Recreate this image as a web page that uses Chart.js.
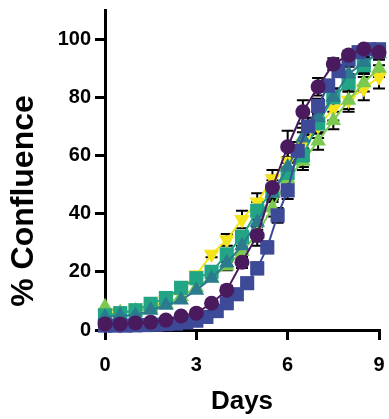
<!DOCTYPE html>
<html>
<head>
<meta charset="utf-8">
<script src="https://cdn.jsdelivr.net/npm/chart.js@4/dist/chart.umd.min.js"></script>
<style>
  html, body { margin: 0; padding: 0; background: #fff; }
  #wrap { width: 389px; height: 419px; }
</style>
</head>
<body>
<div id="wrap"><canvas id="c"></canvas></div>
<script>
// time points (days)
const days = [0, 0.5, 1, 1.5, 2, 2.5, 3, 3.5, 4, 4.5, 5, 5.5, 6, 6.5, 7, 7.5, 8, 8.5, 9];
const daysIndigo = [0, 0.33, 0.67, 1, 1.33, 1.67, 2, 2.33, 2.67, 3, 3.33, 3.67, 4, 4.33, 4.67,
    5, 5.33, 5.67, 6, 6.33, 6.67, 7, 7.33, 7.67, 8, 8.33, 8.67, 9];

// % confluence per series
const purpleCircle = [2.1, 2.1, 2.4, 2.7, 3.4, 4.8, 5.8, 9.2, 13.7, 23.3, 32.5, 49, 63, 75, 83.6, 91.4, 94.5, 96.6, 95.5];
const indigoSquare = [1.5, 1.5, 1.5, 1.6, 1.7, 1.8, 2, 2.2, 2.6, 3.2, 4.5, 6.5, 9.2, 12.3, 16.1,
    21.2, 28.4, 39.4, 48, 61.6, 70, 77, 84, 89, 93, 95.5, 96.5, 96.5];
const tealTriangle = [4.5, 5, 5, 6.8, 8.5, 10.3, 13.7, 17.8, 23, 29, 37, 47, 56, 66, 73, 80, 88, 92, 95];
const greenSquare = [5, 5.8, 6.8, 9, 11, 14.5, 17.8, 20, 26, 32, 41, 48, 54, 60, 71, 80, 85, 91, 96];
const limeTriangle = [8, 6, 6.5, 7.5, 9, 11.5, 14.5, 18, 22, 27, 33, 42, 52, 58, 65, 72, 79, 85, 90];
const yellowTriangle = [6, 6, 7, 8, 10, 14, 19, 26, 31, 38, 44, 52, 58, 64, 70, 76, 79, 83, 87];

// error (SD)
const purpleErr = [0, 0, 0, 0, 0, 0, 0, 0, 1.5, 2, 3.5, 4, 5.5, 4, 3, 2, 1.5, 1, 1];
const indigoErr = [0, 0, 0, 0, 0, 0, 0, 0, 0, 0, 0, 0, 1, 1.5, 1.5,
    2, 2, 2.5, 3, 3, 3, 2.5, 2, 2, 1.5, 1, 1, 1];
const tealErr = [0, 0, 0, 0, 0, 0, 0, 0, 1.5, 2, 2.5, 3, 3.5, 3.5, 3, 3, 2.5, 2, 2];
const greenErr = [0, 0, 0, 0, 0, 0, 0, 1, 1.5, 2, 3, 3.5, 4, 4, 3.5, 3, 3, 2.5, 2];
const limeErr = [0, 0, 0, 0, 0, 0, 0, 0, 1.5, 2, 2.5, 3, 3, 3, 3, 3, 3, 3, 3];
const yellowErr = [0, 0, 0, 0, 0, 0, 0, 1, 2, 3, 3, 3, 4, 4, 4, 4, 4, 4, 4];

const yTicks = [0, 20, 40, 60, 80, 100];
const xTicks = [0, 3, 6, 9];
const yTitle = '% Confluence';

const pts = (xs, ys) => xs.map((x, i) => ({ x: x, y: ys[i] }));

const makeSet = (xs, ys, err, color, style, radius, rotation) => ({
    data: pts(xs, ys),
    err: err,
    borderColor: color,
    backgroundColor: color,
    borderWidth: 2,
    pointStyle: style,
    pointRadius: radius,
    pointRotation: rotation || 0,
    pointBorderWidth: 0,
    pointBackgroundColor: color,
    clip: false,
});

const fontFamily = '"Liberation Sans", Arial, sans-serif';
const font = { family: fontFamily, weight: 'bold' };

// error bars drawn behind the markers
const errorBars = {
    id: 'errorBars',
    beforeDatasetsDraw(chart) {
        const ctx = chart.ctx;
        const y = chart.scales.y;
        ctx.save();
        ctx.strokeStyle = '#000';
        ctx.lineWidth = 2;
        chart.data.datasets.forEach((ds, di) => {
            const meta = chart.getDatasetMeta(di);
            ds.data.forEach((p, i) => {
                const e = ds.err[i];
                if (!e) return;
                const px = meta.data[i].x;
                const top = y.getPixelForValue(p.y + e);
                const bot = y.getPixelForValue(p.y - e);
                ctx.beginPath();
                ctx.moveTo(px, top); ctx.lineTo(px, bot);
                ctx.moveTo(px - 6, top); ctx.lineTo(px + 6, top);
                ctx.moveTo(px - 6, bot); ctx.lineTo(px + 6, bot);
                ctx.stroke();
            });
        });
        ctx.restore();
    }
};

// y axis title, placed a bit lower than the chart area centre like the original
const yTitlePlugin = {
    id: 'yTitlePlugin',
    afterDraw(chart) {
        const ctx = chart.ctx;
        ctx.save();
        ctx.translate(33, 201);
        ctx.rotate(-Math.PI / 2);
        ctx.font = 'bold 32px ' + fontFamily;
        ctx.fillStyle = '#000';
        ctx.textAlign = 'center';
        ctx.textBaseline = 'alphabetic';
        ctx.fillText(yTitle, 0, 0);
        ctx.restore();
    }
};

new Chart(document.getElementById('c'), {
    type: 'line',
    data: {
        datasets: [
            makeSet(days, purpleCircle, purpleErr, '#4a1a5e', 'circle', 7.5),
            makeSet(daysIndigo, indigoSquare, indigoErr, '#3d4a97', 'rect', 10),
            makeSet(days, tealTriangle, tealErr, '#2b7a8d', 'triangle', 9),
            makeSet(days, greenSquare, greenErr, '#22a585', 'rect', 10),
            makeSet(days, limeTriangle, limeErr, '#7cc94f', 'triangle', 9),
            makeSet(days, yellowTriangle, yellowErr, '#f3e41c', 'triangle', 9, 180),
        ]
    },
    options: {
        responsive: true,
        maintainAspectRatio: false,
        animation: false,
        layout: { padding: { left: 58, right: 9, top: 7, bottom: 0 } },
        plugins: {
            legend: { display: false },
            tooltip: { enabled: false },
        },
        scales: {
            x: {
                type: 'linear',
                min: 0,
                max: 9,
                afterBuildTicks: axis => { axis.ticks = xTicks.map(v => ({ value: v })); },
                afterFit: axis => { axis.height = 89; axis.paddingLeft = 0; axis.paddingRight = 0; },
                grid: { drawOnChartArea: false, drawTicks: true, tickLength: 10, color: '#000', lineWidth: 3 },
                border: { display: true, color: '#000', width: 3 },
                ticks: { color: '#000', font: { ...font, size: 20 }, padding: 13, maxRotation: 0 },
                title: { display: true, text: 'Days', color: '#000', font: { ...font, size: 26 }, padding: { top: 4, bottom: 2 } },
            },
            y: {
                min: 0,
                max: 110,
                afterBuildTicks: axis => { axis.ticks = yTicks.map(v => ({ value: v })); },
                afterFit: axis => { axis.width = 47; axis.paddingTop = 0; axis.paddingBottom = 0; },
                grid: { drawOnChartArea: false, drawTicks: true, tickLength: 10, color: '#000', lineWidth: 3 },
                border: { display: true, color: '#000', width: 3 },
                ticks: { color: '#000', font: { ...font, size: 20 }, padding: 4 },
                title: { display: false },
            },
        },
    },
    plugins: [errorBars, yTitlePlugin],
});
</script>
</body>
</html>
